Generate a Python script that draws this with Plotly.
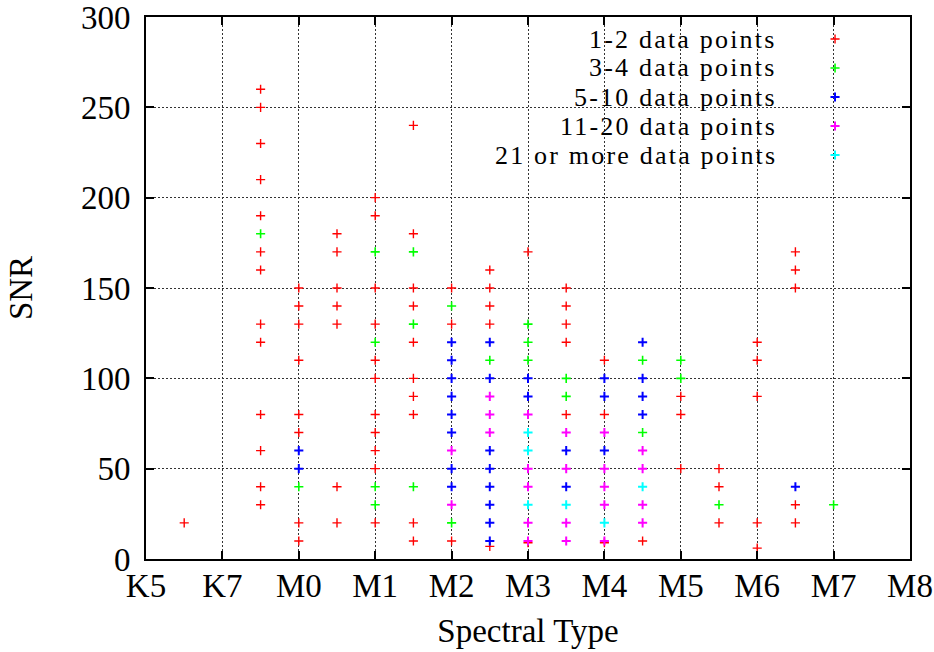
import plotly.graph_objects as go

# Spectral subtype index: M0 = 0, M1 = 1, ... ; K7 = -1, K5 = -2
tick_vals = [-2, -1, 0, 1, 2, 3, 4, 5, 6, 7, 8]
tick_text = ["K5", "K7", "M0", "M1", "M2", "M3", "M4", "M5", "M6", "M7", "M8"]

labels = ["1-2 data points", "3-4 data points", "5-10 data points",
          "11-20 data points", "21 or more data points"]

# 1-2 data points
x_1_2 = ([-1.5]
         + [-0.5] * 13
         + [0] * 8
         + [0.5] * 7
         + [1] * 11
         + [1.5] * 10
         + [2] * 3
         + [2.5] * 5
         + [3] * 2
         + [3.5] * 5
         + [4] * 3
         + [4.5]
         + [5] * 3
         + [5.5] * 3
         + [6] * 5
         + [6.5] * 5)
snr_1_2 = ([20]
           + [260, 250, 230, 210, 190, 170, 160, 130, 120, 80, 60, 40, 30]
           + [150, 140, 130, 110, 80, 70, 20, 10]
           + [180, 170, 150, 140, 130, 40, 20]
           + [200, 190, 150, 130, 110, 100, 80, 70, 60, 50, 20]
           + [240, 180, 150, 140, 120, 100, 90, 80, 20, 10]
           + [150, 130, 10]
           + [160, 150, 140, 130, 7]
           + [170, 9]
           + [150, 140, 130, 120, 80]
           + [110, 80, 9]
           + [10]
           + [90, 80, 50]
           + [50, 40, 20]
           + [120, 110, 90, 20, 6]
           + [170, 160, 150, 30, 20])

# 3-4 data points
x_3_4 = ([-0.5, 0] + [1] * 4 + [1.5] * 3 + [2] * 2 + [2.5] + [3] * 3
         + [3.5] * 2 + [4.5] * 2 + [5] * 2 + [5.5, 7])
snr_3_4 = ([180, 40] + [170, 120, 40, 30] + [170, 130, 40] + [140, 20] + [110]
           + [130, 120, 110] + [100, 90] + [110, 70] + [110, 100] + [30, 30])

# 5-10 data points
x_5_10 = ([0] * 2 + [2] * 8 + [2.5] * 8 + [3] * 2 + [3.5] * 2 + [4] * 3
          + [4.5] * 4 + [6.5])
snr_5_10 = ([60, 50] + [120, 110, 100, 90, 80, 70, 50, 40]
            + [120, 100, 60, 50, 40, 30, 20, 10] + [100, 90] + [60, 40]
            + [100, 90, 60] + [120, 100, 90, 80] + [40])

# 11-20 data points
x_11_20 = [2] * 2 + [2.5] * 3 + [3] * 5 + [3.5] * 4 + [4] * 5 + [4.5] * 4
snr_11_20 = ([60, 30] + [90, 80, 70] + [80, 50, 40, 20, 10] + [70, 50, 20, 10]
             + [70, 50, 40, 30, 10] + [60, 50, 30, 20])

# 21 or more data points
x_21 = [3, 3, 3, 3.5, 4, 4.5]
snr_21 = [70, 60, 30, 30, 20, 40]

series_x = [x_1_2, x_3_4, x_5_10, x_11_20, x_21]
series_y = [snr_1_2, snr_3_4, snr_5_10, snr_11_20, snr_21]
colors = ["#ff0000", "#00ff00", "#0000ff", "#ff00ff", "#00ffff"]
widths = [1.4, 1.6, 2.0, 2.0, 2.0]

FONT = "Liberation Serif"
FS = 33
KEY_FS = 26
fig = go.Figure()

for lab, xs, ys, col, w in zip(labels, series_x, series_y, colors, widths):
    fig.add_trace(go.Scatter(
        x=xs, y=ys, mode="markers", name=" ",
        marker=dict(symbol="cross-thin-open", size=6.5, color=col,
                    line=dict(color=col, width=w)),
        hovertemplate=lab + "<br>%{x}, SNR %{y}<extra></extra>",
    ))

# key text, right-aligned to the left of the key symbols
row_px = 29
plot_h = 542
for i, lab in enumerate(labels):
    fig.add_annotation(
        text='<span style="letter-spacing:2.2px">' + lab + "</span>",
        xref="paper", yref="paper",
        x=0.829, y=(520 - i * row_px) / plot_h,
        xanchor="right", yanchor="middle", showarrow=False,
        font=dict(family=FONT, size=KEY_FS, color="black"),
    )

# blank area behind the key (hides the grid, not the points)
fig.add_shape(type="rect", xref="paper", yref="paper",
              x0=0.322, x1=0.972, y0=0.714, y1=1.0,
              fillcolor="white", line=dict(width=0), layer="between")

axis_common = dict(
    showline=True, linecolor="black", linewidth=2, mirror="allticks",
    ticks="inside", ticklen=8, tickwidth=1.5, tickcolor="black",
    showgrid=True, gridcolor="#333333", gridwidth=1, griddash="2px,2px",
    zeroline=False, ticklabeloverflow="allow",
    tickfont=dict(family=FONT, size=FS, color="black"),
)

fig.update_xaxes(
    range=[-2, 8], tickvals=tick_vals, ticktext=tick_text,
    ticklabelstandoff=-4,
    title=dict(text="Spectral Type", font=dict(family=FONT, size=FS, color="black"),
               standoff=16),
    **axis_common,
)
fig.update_yaxes(
    range=[0, 300], tickvals=[0, 50, 100, 150, 200, 250, 300],
    ticklabelstandoff=7,
    title=dict(text="SNR", font=dict(family=FONT, size=FS, color="black"),
               standoff=38),
    **axis_common,
)

fig.update_layout(
    width=934, height=652,
    margin=dict(l=146, r=24, t=17, b=93, autoexpand=False),
    paper_bgcolor="white", plot_bgcolor="white",
    showlegend=True,
    legend=dict(x=0.8757, y=0.9954, xanchor="left", yanchor="top",
                bgcolor="rgba(0,0,0,0)", borderwidth=0,
                font=dict(family=FONT, size=20, color="black"),
                itemwidth=30, tracegroupgap=0),
    font=dict(family=FONT, color="black"),
)

fig.write_html("out.html")
